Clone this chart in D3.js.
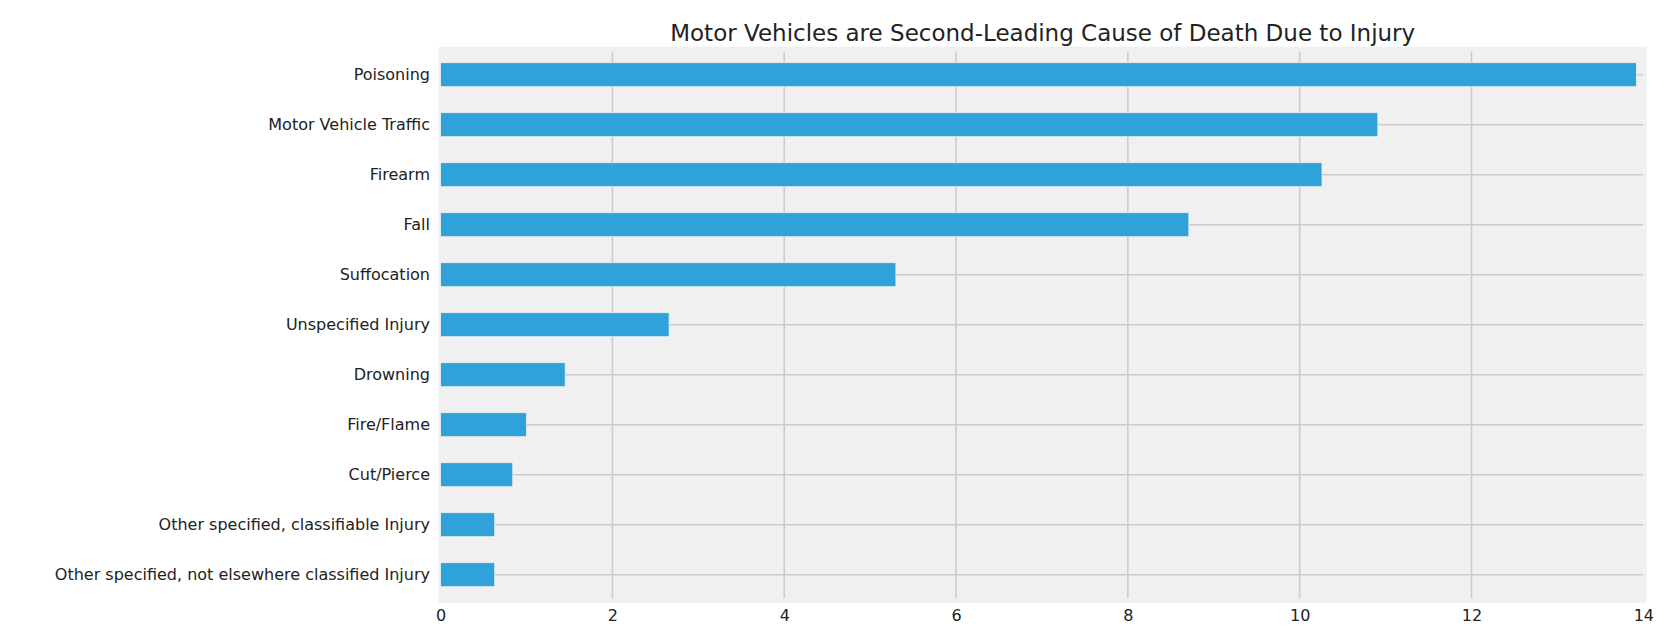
<!DOCTYPE html>
<html>
<head>
<meta charset="utf-8">
<script src="https://cdn.jsdelivr.net/npm/d3@7"></script>
<style>
  body { margin: 0; background: #fff; }
  text { font-family: "DejaVu Sans", sans-serif; fill: #222; }
</style>
</head>
<body>
<svg id="chart" width="1676" height="630"></svg>
<script>
const TITLE = 'Motor Vehicles are Second-Leading Cause of Death Due to Injury';
const causes = [
  'Poisoning',
  'Motor Vehicle Traffic',
  'Firearm',
  'Fall',
  'Suffocation',
  'Unspecified Injury',
  'Drowning',
  'Fire/Flame',
  'Cut/Pierce',
  'Other specified, classifiable Injury',
  'Other specified, not elsewhere classified Injury'
];
const rates = [13.92, 10.91, 10.26, 8.71, 5.3, 2.66, 1.45, 1.0, 0.84, 0.63, 0.63];
const xTicks = [0, 2, 4, 6, 8, 10, 12, 14];

const svg = d3.select('#chart');
const plot = { left: 438.7, right: 1646.7, top: 46.7, bottom: 602.7 };

const x = d3.scaleLinear().domain([0, 14]).range([440.6, 1643.3]);
const y = d3
  .scaleBand()
  .domain(causes)
  .range([plot.top, plot.bottom])
  .paddingInner(0.52)
  .paddingOuter(0.32);

// grey panel
svg
  .append('rect')
  .attr('x', plot.left)
  .attr('y', plot.top)
  .attr('width', plot.right - plot.left)
  .attr('height', plot.bottom - plot.top)
  .attr('fill', '#f0f0f0');

// vertical grid (inner ticks only)
svg
  .append('g')
  .selectAll('line')
  .data(xTicks.filter(d => d > 0 && d < 14))
  .enter()
  .append('line')
  .attr('x1', d => x(d))
  .attr('x2', d => x(d))
  .attr('y1', plot.top + 5)
  .attr('y2', plot.bottom - 4.5)
  .attr('stroke', '#cbcbcb')
  .attr('stroke-width', 1.6);

// horizontal grid through the bar centres
svg
  .append('g')
  .selectAll('line')
  .data(causes)
  .enter()
  .append('line')
  .attr('x1', x(0))
  .attr('x2', x(14))
  .attr('y1', d => y(d) + y.bandwidth() / 2)
  .attr('y2', d => y(d) + y.bandwidth() / 2)
  .attr('stroke', '#cbcbcb')
  .attr('stroke-width', 1.6);

// bars
svg
  .append('g')
  .selectAll('rect')
  .data(causes)
  .enter()
  .append('rect')
  .attr('x', x(0))
  .attr('y', d => y(d))
  .attr('width', (d, i) => x(rates[i]) - x(0))
  .attr('height', y.bandwidth())
  .attr('fill', '#30a2da')
  .attr('stroke', '#f0f0f0')
  .attr('stroke-width', 0.8);

// y labels
const yAxis = d3.axisLeft(y).tickSize(0).tickPadding(0);
svg
  .append('g')
  .attr('transform', 'translate(430,0)')
  .call(yAxis)
  .call(g => g.select('.domain').remove())
  .selectAll('text')
  .style('font-size', '16px')
  .attr('fill', '#222');

// x labels
const xAxis = d3.axisBottom(x).tickValues(xTicks).tickSize(0).tickPadding(0);
svg
  .append('g')
  .attr('transform', 'translate(0,610)')
  .call(xAxis)
  .call(g => g.select('.domain').remove())
  .selectAll('text')
  .style('font-size', '16px')
  .attr('fill', '#222');

svg
  .append('text')
  .attr('x', (plot.left + plot.right) / 2)
  .attr('y', 40.5)
  .attr('text-anchor', 'middle')
  .style('font-size', '23px')
  .text(TITLE);
</script>
</body>
</html>
